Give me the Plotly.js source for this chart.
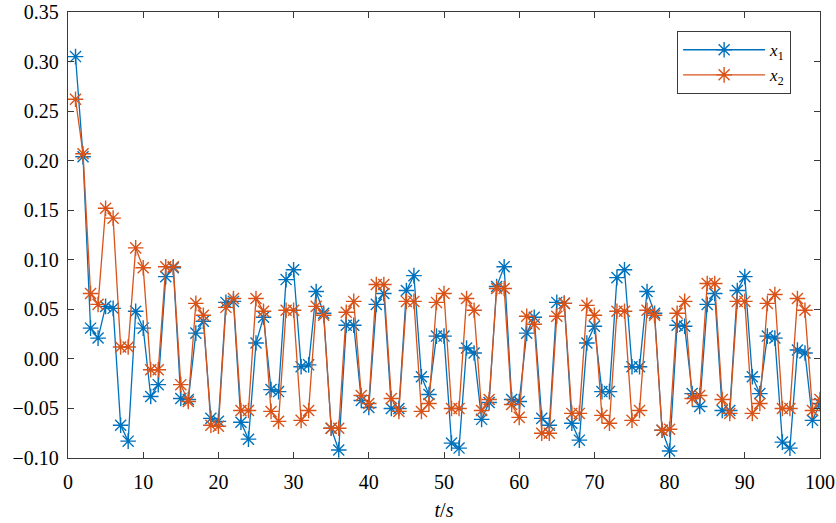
<!DOCTYPE html>
<html>
<head>
<meta charset="utf-8">
<script src="https://cdn.plot.ly/plotly-3.0.1.min.js"></script>
<style>html,body{margin:0;padding:0;background:#fff;}#chart{width:836px;height:523px;}</style>
</head>
<body>
<div id="chart"></div>
<script>
const t = Array.from({length: 100}, (_, i) => i + 1);

const x1 = [
  0.305, 0.204, 0.031, 0.021, 0.053, 0.051, -0.067, -0.083, 0.048, 0.031,
  -0.038, -0.026, 0.083, 0.092, -0.040, -0.041, 0.026, 0.038, -0.060, -0.063,
  0.057, 0.058, -0.064, -0.081, 0.016, 0.042, -0.031, -0.033, 0.080, 0.090,
  -0.008, -0.006, 0.068, 0.046, -0.070, -0.092, 0.034, 0.034, -0.042, -0.049,
  0.055, 0.066, -0.050, -0.050, 0.069, 0.084, -0.018, -0.036, 0.023, 0.023,
  -0.085, -0.090, 0.011, 0.006, -0.061, -0.044, 0.073, 0.093, -0.041, -0.043,
  0.026, 0.042, -0.060, -0.067, 0.057, 0.056, -0.065, -0.082, 0.016, 0.033,
  -0.033, -0.033, 0.082, 0.090, -0.008, -0.008, 0.068, 0.046, -0.072, -0.093,
  0.034, 0.033, -0.035, -0.048, 0.055, 0.066, -0.052, -0.052, 0.069, 0.083,
  -0.018, -0.035, 0.023, 0.021, -0.084, -0.090, 0.009, 0.006, -0.062, -0.045
];

const x2 = [
  0.262, 0.207, 0.066, 0.055, 0.152, 0.142, 0.012, 0.012, 0.112, 0.092,
  -0.011, -0.011, 0.093, 0.093, -0.026, -0.043, 0.056, 0.044, -0.067, -0.068,
  0.052, 0.061, -0.052, -0.052, 0.061, 0.048, -0.053, -0.063, 0.049, 0.049,
  -0.062, -0.052, 0.053, 0.044, -0.070, -0.070, 0.047, 0.058, -0.037, -0.045,
  0.075, 0.075, -0.040, -0.053, 0.058, 0.058, -0.053, -0.045, 0.057, 0.066,
  -0.050, -0.050, 0.061, 0.049, -0.052, -0.041, 0.071, 0.071, -0.046, -0.059,
  0.043, 0.035, -0.075, -0.075, 0.043, 0.056, -0.055, -0.055, 0.054, 0.044,
  -0.057, -0.065, 0.048, 0.048, -0.062, -0.052, 0.049, 0.044, -0.072, -0.071,
  0.046, 0.058, -0.040, -0.037, 0.076, 0.076, -0.041, -0.055, 0.058, 0.058,
  -0.055, -0.045, 0.056, 0.065, -0.050, -0.050, 0.061, 0.049, -0.052, -0.041
];

const seriesNames = ['<i>x</i><sub>1</sub>', '<i>x</i><sub>2</sub>'];
const xTicks = [0, 10, 20, 30, 40, 50, 60, 70, 80, 90, 100];
const yTicks = [-0.10, -0.05, 0.00, 0.05, 0.10, 0.15, 0.20, 0.25, 0.30, 0.35];

const font = 'Liberation Serif, Times New Roman, serif';
const blue = '#0072BD';
const red = '#D95319';

const mk = (y, name, color) => ({
  x: t, y: y, name: name, type: 'scatter', mode: 'lines+markers',
  line: {color: color, width: 1.3},
  marker: {symbol: 'asterisk-open', size: 13, color: color, line: {color: color, width: 1.4}}
});

const data = [mk(x1, seriesNames[0], blue), mk(x2, seriesNames[1], red)];

const axisCommon = {
  showgrid: false, zeroline: false, showline: true, mirror: 'ticks',
  linecolor: '#3a3a3a', linewidth: 1.3, ticks: 'inside', ticklen: 6,
  tickcolor: '#3a3a3a', tickfont: {family: font, size: 20, color: '#000'}
};

const layout = {
  width: 836, height: 523,
  margin: {l: 68, r: 16, t: 12, b: 65},
  paper_bgcolor: '#fff', plot_bgcolor: '#fff',
  font: {family: font, color: '#000'},
  xaxis: Object.assign({}, axisCommon, {
    range: [0, 100], tickvals: xTicks, ticktext: xTicks.map(String), ticklabelstandoff: 6,
    title: {text: '<i>t</i>/<i>s</i>', font: {family: font, size: 20}, standoff: 10}
  }),
  yaxis: Object.assign({}, axisCommon, {
    range: [-0.10, 0.35], tickvals: yTicks, tickformat: '.2f', ticklabelstandoff: 4
  }),
  legend: {
    x: 0.81, y: 0.957, xanchor: 'left', yanchor: 'top',
    bgcolor: '#fff', bordercolor: '#3a3a3a', borderwidth: 1,
    font: {family: font, size: 17}, itemwidth: 82, tracegroupgap: 0
  },
  showlegend: true
};

Plotly.newPlot('chart', data, layout, {displayModeBar: false, staticPlot: true});
</script>
</body>
</html>
